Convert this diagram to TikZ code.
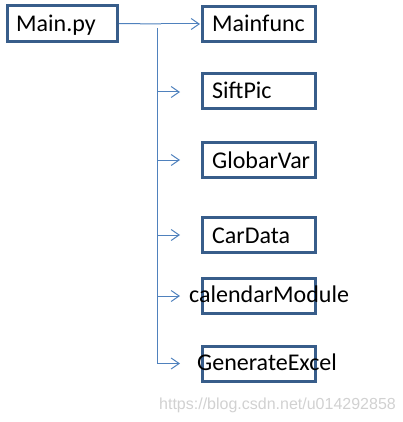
\documentclass[tikz,border=0pt]{standalone}
\usepackage{fontspec}
\setmainfont{Carlito}
\newfontfamily\wmfont{Liberation Sans}
\usetikzlibrary{arrows.meta}
\definecolor{boxblue}{RGB}{56,93,138}
\definecolor{linkblue}{RGB}{79,129,189}
\tikzset{
    modbox/.style={draw=boxblue, line width=3pt, minimum width=113pt, minimum height=35pt, inner sep=0pt},
    modtext/.style={anchor=base west, inner sep=0pt, font=\fontsize{24}{28}\selectfont},
    link/.style={draw=linkblue, line width=1pt},
    linkarrow/.style={link, -{Straight Barb[length=8pt, width=11pt]}}
}
\begin{document}
\begin{tikzpicture}[x=1pt, y=-1pt]
        \useasboundingbox (0,0) rectangle (403,422);

        \node (main) [modbox, minimum width=110pt, minimum height=36pt] at (62.5,23.5) {};
        \node (mainlabel) [modtext] at (16,32) {Main.py};

        \node (mainfunc) [modbox] at (259,24) {};
        \node (sift)     [modbox] at (259,91.5) {};
        \node (globar)   [modbox] at (259,160) {};
        \node (cardata)  [modbox] at (259,235) {};
        \node (calendar) [modbox] at (259,296) {};
        \node (excel)    [modbox] at (259,364) {};

        \node (mainfunclabel) [modtext] at (212,32)  {Mainfunc};
        \node (siftlabel)     [modtext] at (212,99)  {SiftPic};
        \node (globarlabel)   [modtext] at (212,168) {GlobarVar};
        \node (cardatalabel)  [modtext] at (212,243) {CarData};
        \node (calendarlabel) [modtext] at (189,302) {calendarModule};
        \node (excellabel)    [modtext] at (197,370) {GenerateExcel};

        \coordinate (hub) at (161,24);
        \draw [link] (main.east) -- (hub);
        \draw [linkarrow] (hub) -- ([xshift=-1pt]mainfunc.west);

        \coordinate (trunktop) at (157,28);
        \coordinate (trunkbot) at (157,364);
        \draw [link] (trunktop) -- (trunkbot);

        \foreach \y/\n in {92/1, 160/2, 235/3, 296/4, 363.5/5} {
            \coordinate (b\n) at (157,\y);
            \coordinate (t\n) at (180,\y);
            \draw [linkarrow] (b\n) -- (t\n);
        }

        \node (watermark) [anchor=base west, inner sep=0pt, font=\wmfont\fontsize{16}{18}\selectfont, text=black!18] at (159,409) {https://blog.csdn.net/u014292858};
    \end{tikzpicture}
\end{document}
